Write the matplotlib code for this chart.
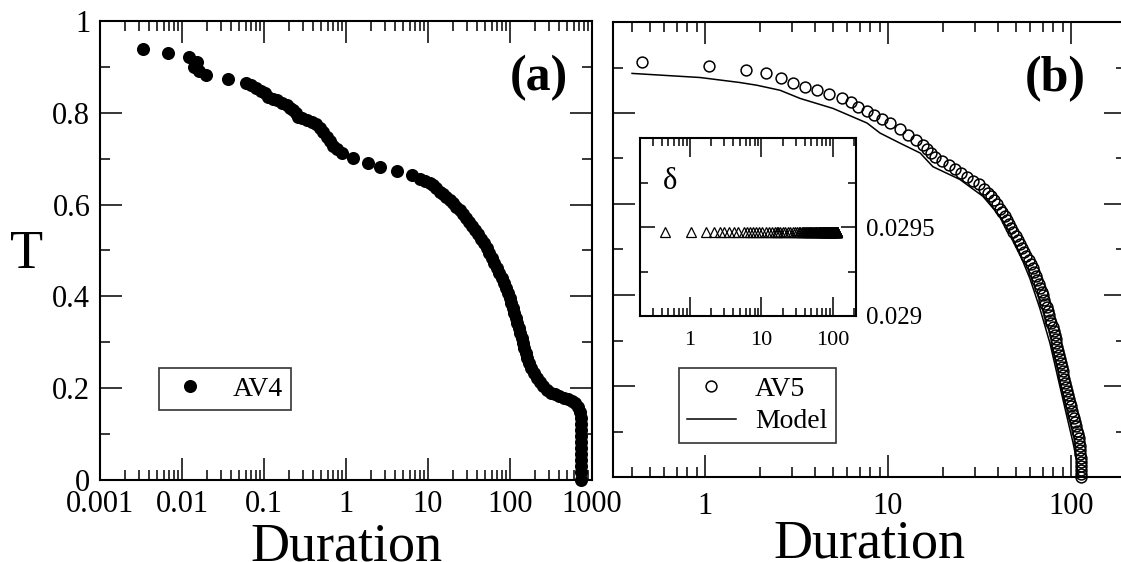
import matplotlib
matplotlib.use("Agg")
import matplotlib.pyplot as plt
from matplotlib.ticker import LogLocator, MultipleLocator, FixedLocator, FuncFormatter, NullFormatter

plt.rcParams['font.family'] = ['Liberation Serif', 'DejaVu Serif']

# ---- data ----
# panel (a): AV4
av4_duration = [0.00334, 0.00675, 0.0122, 0.0152, 0.0140, 0.0161, 0.0196, 0.0364, 0.0603, 0.0694,
                0.0799, 0.0919, 0.103, 0.112, 0.129, 0.144, 0.166, 0.191, 0.208, 0.226,
                0.246, 0.260, 0.291, 0.334, 0.385, 0.431, 0.482, 0.524, 0.587, 0.638,
                0.694, 0.777, 0.894, 1.22, 1.86, 2.60, 4.19, 6.38, 7.99, 9.19,
                10.6, 11.5, 12.5, 14.0, 15.2, 16.6, 18.6, 20.2, 22.0, 24.6,
                26.7, 29.1, 31.6, 34.4, 37.4, 40.7, 44.3, 48.2, 52.4, 55.5,
                60.3, 63.8, 69.4, 73.4, 79.9, 84.5, 89.4, 94.5, 100.0, 102.8,
                108.8, 111.9, 118.4, 121.7, 128.8, 132.4, 140.1, 144.1, 148.2, 156.7,
                161.2, 170.5, 180.3, 196.2, 213.4, 232.2, 252.6, 282.6, 316.2, 353.8,
                395.9, 455.7, 509.8, 570.4, 620.4, 675.1, 714.1, 734, 734, 734,
                734, 734, 734, 734, 734, 734, 734, 734]
av4_T = [0.939, 0.930, 0.922, 0.911, 0.900, 0.891, 0.882, 0.874, 0.865, 0.861,
         0.854, 0.847, 0.843, 0.835, 0.830, 0.828, 0.821, 0.817, 0.810, 0.806,
         0.800, 0.791, 0.789, 0.784, 0.780, 0.776, 0.767, 0.758, 0.747, 0.739,
         0.728, 0.721, 0.712, 0.702, 0.691, 0.682, 0.673, 0.665, 0.656, 0.651,
         0.647, 0.643, 0.636, 0.627, 0.623, 0.617, 0.610, 0.603, 0.595, 0.588,
         0.580, 0.571, 0.562, 0.553, 0.545, 0.536, 0.525, 0.516, 0.505, 0.495,
         0.484, 0.473, 0.462, 0.451, 0.440, 0.429, 0.418, 0.407, 0.397, 0.386,
         0.375, 0.364, 0.353, 0.342, 0.331, 0.320, 0.309, 0.298, 0.288, 0.277,
         0.266, 0.255, 0.244, 0.233, 0.222, 0.214, 0.205, 0.196, 0.190, 0.187,
         0.183, 0.179, 0.176, 0.172, 0.168, 0.159, 0.148, 0.135, 0.122, 0.109,
         0.096, 0.083, 0.070, 0.057, 0.044, 0.031, 0.017, 0.0]

# panel (b): AV5 and model
av5_duration = [0.453, 1.05, 1.68, 2.15, 2.60, 3.03, 3.52, 4.09, 4.76, 5.61,
                6.28, 6.86, 7.68, 8.38, 9.27, 10.3, 11.6, 12.9, 14.2, 15.5,
                16.3, 17.2, 18.1, 19.7, 21.5, 23.2, 25.2, 27.2, 29.3, 31.4,
                33.5, 35.0, 36.5, 38.0, 39.4, 40.9, 42.1, 43.4, 44.7, 45.9,
                47.2, 48.5, 49.8, 51.1, 52.6, 54.0, 55.5, 57.1, 58.7, 60.5,
                61.7, 62.9, 64.2, 65.5, 66.7, 67.9, 69.1, 70.3, 71.4, 72.6,
                73.7, 74.9, 76.0, 77.2, 78.2, 79.4, 80.4, 81.4, 82.4, 83.3,
                84.4, 85.4, 86.5, 87.6, 88.6, 89.4, 90.2, 91.0, 91.8, 93.0,
                94.0, 95.2, 96.3, 97.5, 98.8, 100.0, 101.3, 102.5, 103.7, 104.9,
                106.2, 107.4, 108.7, 110.0, 111.3, 112.1, 112.4, 112.7, 113.1, 113.4,
                113.4, 113.4, 113.4, 113.4]
av5_T = [0.913, 0.904, 0.895, 0.887, 0.876, 0.867, 0.858, 0.850, 0.841, 0.832,
         0.824, 0.813, 0.804, 0.795, 0.786, 0.778, 0.765, 0.752, 0.741, 0.730,
         0.721, 0.712, 0.704, 0.695, 0.686, 0.678, 0.669, 0.660, 0.651, 0.643,
         0.634, 0.625, 0.617, 0.608, 0.599, 0.590, 0.582, 0.573, 0.564, 0.556,
         0.547, 0.538, 0.529, 0.521, 0.512, 0.503, 0.495, 0.486, 0.477, 0.468,
         0.460, 0.451, 0.442, 0.434, 0.425, 0.416, 0.407, 0.399, 0.390, 0.381,
         0.373, 0.364, 0.355, 0.346, 0.338, 0.329, 0.320, 0.312, 0.303, 0.294,
         0.285, 0.277, 0.268, 0.259, 0.251, 0.242, 0.233, 0.224, 0.216, 0.207,
         0.198, 0.190, 0.181, 0.172, 0.163, 0.155, 0.146, 0.137, 0.129, 0.120,
         0.111, 0.102, 0.094, 0.085, 0.076, 0.068, 0.059, 0.050, 0.041, 0.033,
         0.024, 0.015, 0.007, 0.0]

model_duration = [0.399, 0.939, 1.55, 1.92, 2.57, 3.31, 5.01, 7.68, 9.04, 11.6,
                  15.0, 17.6, 24.7, 33.0, 40.9, 46.4, 52.6, 59.7, 67.7, 76.8,
                  84.9, 93.9, 102.6, 107.9, 109.2]
model_T = [0.887, 0.878, 0.867, 0.861, 0.850, 0.832, 0.810, 0.778, 0.756, 0.734,
           0.712, 0.682, 0.654, 0.617, 0.573, 0.538, 0.490, 0.436, 0.370, 0.294,
           0.218, 0.142, 0.076, 0.033, 0.0]

# inset: delta, same for every AV5 duration
delta_value = 0.02947

W, H = 1121, 562
fig = plt.figure(figsize=(W / 100, H / 100), dpi=100)
ax1 = fig.add_axes([100 / W, (H - 480) / H, 492 / W, 459 / H])
ax2 = fig.add_axes([613 / W, (H - 477) / H, 513 / W, 455 / H])
ins = fig.add_axes([640 / W, (H - 316) / H, 216 / W, 178 / H])

fmt = FuncFormatter(lambda v, p: f'{v:g}')


def style(ax, maj, mnr, width=1.5):
    ax.tick_params(which='both', direction='in', top=True, right=True, width=1.1, colors='k')
    ax.tick_params(which='major', length=maj)
    ax.tick_params(which='minor', length=mnr)
    for s in ax.spines.values():
        s.set_linewidth(width)


# 1) left panel
ax1.plot(av4_duration, av4_T, 'o', color='k', ms=9.4, mew=0, clip_on=False, zorder=3, label='AV4')
ax1.set_xscale('log')
ax1.set_xlim(0.001, 1000)
ax1.set_ylim(0, 1)
ax1.xaxis.set_major_locator(LogLocator(base=10, numticks=20))
ax1.xaxis.set_minor_locator(LogLocator(base=10, subs=range(2, 10), numticks=20))
ax1.xaxis.set_major_formatter(fmt)
ax1.xaxis.set_minor_formatter(NullFormatter())
ax1.yaxis.set_major_locator(MultipleLocator(0.2))
ax1.yaxis.set_minor_locator(MultipleLocator(0.1))
ax1.yaxis.set_major_formatter(fmt)
style(ax1, 15.5, 7.5)
ax1.tick_params(axis='x', which='major', labelsize=22, pad=7)
ax1.tick_params(axis='y', which='major', labelsize=22, pad=7)
ax1.set_xlabel('Duration', fontsize=39, labelpad=2.5)
ax1.set_ylabel('T', fontsize=39, rotation=0, ha='center', va='center')
ax1.yaxis.set_label_coords(-0.150, 0.49)
ax1.text(0.892, 0.876, '(a)', transform=ax1.transAxes, ha='center', va='center',
         fontsize=36, fontweight='bold')
leg1 = ax1.legend(loc='center', bbox_to_anchor=(0.254, 0.198), fontsize=20, frameon=True,
                  fancybox=False, edgecolor='k', borderpad=0.3, handlelength=1.65,
                  handletextpad=0.7, borderaxespad=0)
leg1.get_frame().set_linewidth(1.2)

# 2) right panel
ax2.patch.set_visible(False)
ax2.plot(model_duration, model_T, '-', color='k', lw=1.1, label='Model', zorder=2)
ax2.plot(av5_duration, av5_T, 'o', mfc='none', mec='k', ms=7.8, mew=1.1, clip_on=False,
         zorder=3, label='AV5')
ax2.set_xscale('log')
ax2.set_xlim(0.314, 200)
ax2.set_ylim(0, 1)
ax2.xaxis.set_major_locator(LogLocator(base=10, numticks=20))
ax2.xaxis.set_minor_locator(LogLocator(base=10, subs=range(2, 10), numticks=20))
ax2.xaxis.set_major_formatter(fmt)
ax2.xaxis.set_minor_formatter(NullFormatter())
ax2.yaxis.set_major_locator(MultipleLocator(0.2))
ax2.yaxis.set_minor_locator(MultipleLocator(0.1))
ax2.yaxis.set_major_formatter(NullFormatter())
style(ax2, 15.5, 7.5)
ax2.tick_params(axis='x', which='major', labelsize=22, pad=11)
ax2.set_xlabel('Duration', fontsize=39, labelpad=-1.5)
ax2.text(0.862, 0.874, '(b)', transform=ax2.transAxes, ha='center', va='center',
         fontsize=36, fontweight='bold')
h, l = ax2.get_legend_handles_labels()
leg2 = ax2.legend(h[::-1], l[::-1], loc='center', bbox_to_anchor=(0.281, 0.157), fontsize=20,
                  frameon=True, fancybox=False, edgecolor='k', borderpad=0.3,
                  handlelength=1.75, handletextpad=0.7, labelspacing=0.25, borderaxespad=0)
leg2.get_frame().set_linewidth(1.2)

# 3) inset
ins.plot(av5_duration, [delta_value] * len(av5_duration), '^', mfc='none', mec='k',
         ms=6.5, mew=0.9, zorder=3)
ins.set_xscale('log')
ins.set_xlim(0.2, 210)
ins.set_ylim(0.029, 0.030)
ins.xaxis.set_major_locator(LogLocator(base=10, numticks=20))
ins.xaxis.set_minor_locator(LogLocator(base=10, subs=range(2, 10), numticks=20))
ins.xaxis.set_major_formatter(fmt)
ins.xaxis.set_minor_formatter(NullFormatter())
ins.yaxis.set_major_locator(FixedLocator([0.029, 0.0295]))
ins.yaxis.set_minor_locator(FixedLocator([0.02925, 0.02975]))
ins.yaxis.set_major_formatter(fmt)
style(ins, 11, 6)
ins.tick_params(axis='x', which='major', labelsize=16, pad=11, length=14)
ins.tick_params(axis='y', which='major', labelsize=18, pad=7,
                labelleft=False, labelright=True)
ins.text(0.106, 0.837, 'δ', transform=ins.transAxes, ha='left', va='top', fontsize=22)

fig.savefig('out.png', dpi=100)
